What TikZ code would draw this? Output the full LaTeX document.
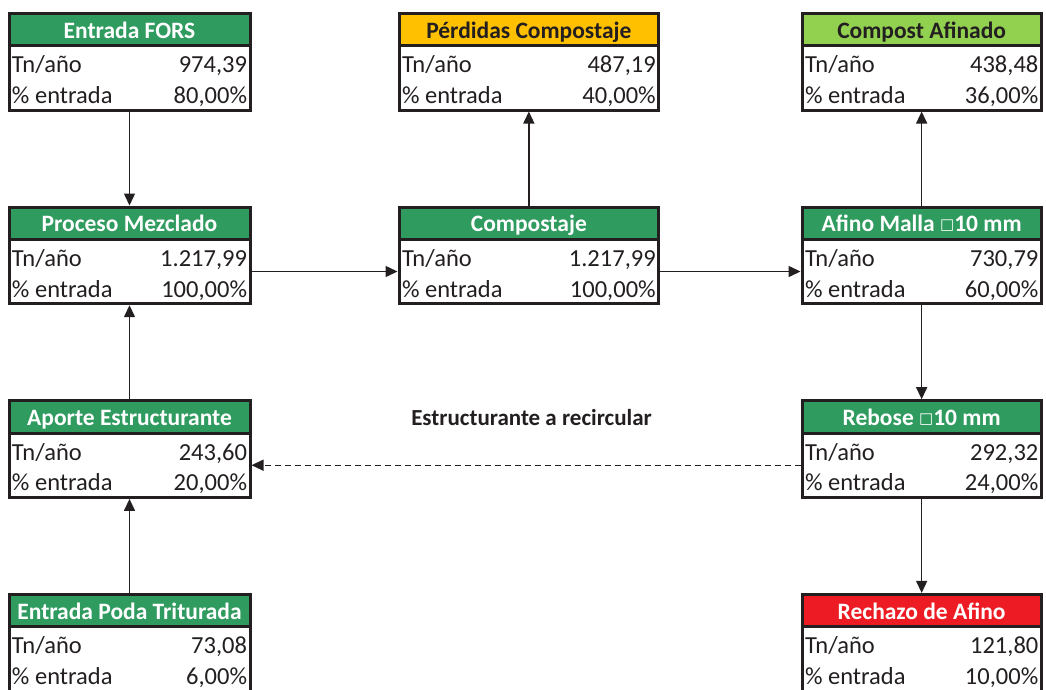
\documentclass[tikz,border=0pt]{standalone}
\usepackage{fontspec}
\setmainfont{Carlito}
\newfontfamily\simbolo{DejaVu Sans}
\usetikzlibrary{arrows.meta,positioning}
\definecolor{VerdeCab}{HTML}{2F9B5F}
\definecolor{NaranjaCab}{HTML}{FFC000}
\definecolor{LimaCab}{HTML}{92D050}
\definecolor{RojoCab}{HTML}{ED1C24}
\definecolor{Tinta}{HTML}{231F20}
% cuerpo de cada caja: dos filas
\newcommand{\datos}[3][235pt]{%
  \begin{tabular*}{#1}[t]{@{}l@{\extracolsep{\fill}}r@{}}
  Tn/año & #2\\
  \% entrada & #3
  \end{tabular*}}
\newcommand{\malla}{\raisebox{1.8pt}{\simbolo\fontsize{15}{15}\selectfont\char"25A1}}

\begin{document}
\begin{tikzpicture}[x=1pt,y=-1pt,
  hdr/.style={rectangle,draw=Tinta,line width=3pt,fill=VerdeCab,text=white,
              minimum width=241pt,minimum height=32.3pt,inner sep=0pt,outer sep=0pt,
              text height=24.7pt,text depth=7.6pt,
              font=\fontsize{23.5}{28}\selectfont\bfseries},
  dat/.style={rectangle,draw=Tinta,line width=3pt,fill=white,text=Tinta,
              minimum width=241pt,minimum height=64.4pt,inner xsep=3pt,inner ysep=0pt,
              outer sep=0pt,text height=27pt,text depth=37.4pt,
              font=\fontsize{24.5}{30.7}\selectfont},
  mid/.style={minimum width=259.7pt},
  der/.style={minimum width=239.3pt},
  arr/.style={-{Triangle[length=12pt,width=11pt]},line width=1.4pt,Tinta,
              shorten <=1.5pt,shorten >=1.5pt}]
\useasboundingbox (0,0) rectangle (1046,689);
% fila superior
\node[hdr,anchor=north] (fors) at (129.5,13.3) {Entrada FORS};
\node[dat,below=0pt of fors] (forsd) {\datos{974,39}{80,00\%}};
\node[hdr,mid,fill=NaranjaCab,text=Tinta,right=149pt of fors] (perdidas) {Pérdidas Compostaje};
\node[dat,mid,below=0pt of perdidas] (perdidasd) {\datos[253.7pt]{487,19}{40,00\%}};
\node[hdr,der,fill=LimaCab,text=Tinta,right=143.3pt of perdidas] (afinado) {Compost Afinado};
\node[dat,der,below=0pt of afinado] (afinadod) {\datos[233.3pt]{438,48}{36,00\%}};
% segunda fila
\node[hdr,below=97pt of forsd] (mezcla) {Proceso Mezclado};
\node[dat,below=0pt of mezcla] (mezclad) {\datos{1.217,99}{100,00\%}};
\node[hdr,mid,below=97pt of perdidasd] (compost) {Compostaje};
\node[dat,mid,below=0pt of compost] (compostd) {\datos[253.7pt]{1.217,99}{100,00\%}};
\node[hdr,der,below=97pt of afinadod] (afino) {Afino Malla \malla10 mm};
\node[dat,der,below=0pt of afino] (afinod) {\datos[233.3pt]{730,79}{60,00\%}};
% tercera fila
\node[hdr,below=97pt of mezclad] (aporte) {Aporte Estructurante};
\node[dat,below=0pt of aporte] (aported) {\datos{243,60}{20,00\%}};
\node[hdr,der,below=97pt of afinod] (rebose) {Rebose \malla10 mm};
\node[dat,der,below=0pt of rebose] (rebosed) {\datos[233.3pt]{292,32}{24,00\%}};
% fila inferior
\node[hdr,below=97pt of aported] (poda) {Entrada Poda Triturada};
\node[dat,below=0pt of poda] (podad) {\datos{73,08}{6,00\%}};
\node[hdr,der,fill=RojoCab,below=97pt of rebosed] (rechazo) {Rechazo de Afino};
\node[dat,der,below=0pt of rechazo] (rechazod) {\datos[233.3pt]{121,80}{10,00\%}};
% flujos
\draw[arr] (forsd.south) -- (mezcla.north);
\draw[arr] (mezclad.east) -- (compostd.west);
\draw[arr] (compostd.east) -- (afinod.west);
\draw[arr] (compost.north) -- (perdidasd.south);
\draw[arr] (afino.north) -- (afinadod.south);
\draw[arr] (afinod.south) -- (rebose.north);
\draw[arr] (rebosed.south) -- (rechazo.north);
\draw[arr] (aporte.north) -- (mezclad.south);
\draw[arr] (poda.north) -- (aported.south);
\draw[arr,dash pattern=on 6pt off 4pt] (rebosed.west) --
  node[pos=.49,above=35.5pt,text=Tinta,font=\fontsize{23}{27}\selectfont\bfseries] (recirc)
  {Estructurante a recircular} (aported.east);
\end{tikzpicture}
\end{document}
